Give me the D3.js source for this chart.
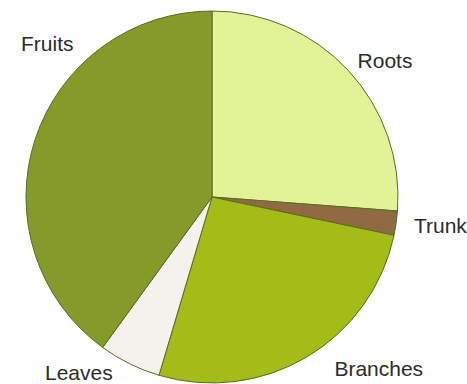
<!DOCTYPE html>
<html>
<head>
<meta charset="utf-8">
<script src="https://cdn.jsdelivr.net/npm/d3@7"></script>
<style>
  html, body { margin: 0; padding: 0; background: #ffffff; }
  svg { display: block; }
</style>
</head>
<body>
<svg id="chart" width="467" height="384"></svg>
<script>
// Share of tree biomass by part (percent)
const parts = ["Roots", "Trunk", "Branches", "Leaves", "Fruits"];
const shares = [26.2, 2.1, 26.3, 5.4, 40.0];
const colors = ["#e2f296", "#8f6a42", "#a3bc17", "#f5f1ec", "#849b29"];

const width = 467, height = 384;
const cx = 212, cy = 197, radius = 186, labelRadius = 204;

// Label placement tweaks: angle override (radians) and pixel nudges
const labelTweaks = {
  Roots:    { dx: -4, dy: 2 },
  Trunk:    { dx: 0,  dy: 0 },
  Branches: { dx: 18, dy: -4 },
  Leaves:   { dx: -9, dy: -7 },
  Fruits:   { angle: 318 * Math.PI / 180, dx: -2, dy: -2 }
};

const data = parts.map((p, i) => ({ part: p, value: shares[i], color: colors[i] }));

const svg = d3.select("#chart");
const g = svg.append("g").attr("transform", `translate(${cx},${cy})`);

const pie = d3.pie().value(d => d.value).sort(null);
const arc = d3.arc().innerRadius(0).outerRadius(radius);
const arcs = pie(data);

g.selectAll("path.slice")
  .data(arcs)
  .join("path")
  .attr("class", "slice")
  .attr("d", arc)
  .attr("fill", d => d.data.color)
  .attr("stroke", "#5a6b24")
  .attr("stroke-width", 1)
  .attr("stroke-linejoin", "round");

g.selectAll("text.label")
  .data(arcs)
  .join("text")
  .attr("class", "label")
  .each(function(d) {
    const t = labelTweaks[d.data.part] || {};
    const a = t.angle !== undefined ? t.angle : (d.startAngle + d.endAngle) / 2;
    const x = Math.sin(a) * labelRadius + (t.dx || 0);
    const y = -Math.cos(a) * labelRadius + (t.dy || 0);
    d3.select(this)
      .attr("x", x)
      .attr("y", y)
      .attr("text-anchor", Math.sin(a) >= 0 ? "start" : "end")
      .attr("dominant-baseline", "central");
  })
  .attr("font-family", "Liberation Sans, Arial, sans-serif")
  .attr("font-size", 21)
  .attr("fill", "#2b2b2b")
  .text(d => d.data.part);
</script>
</body>
</html>
